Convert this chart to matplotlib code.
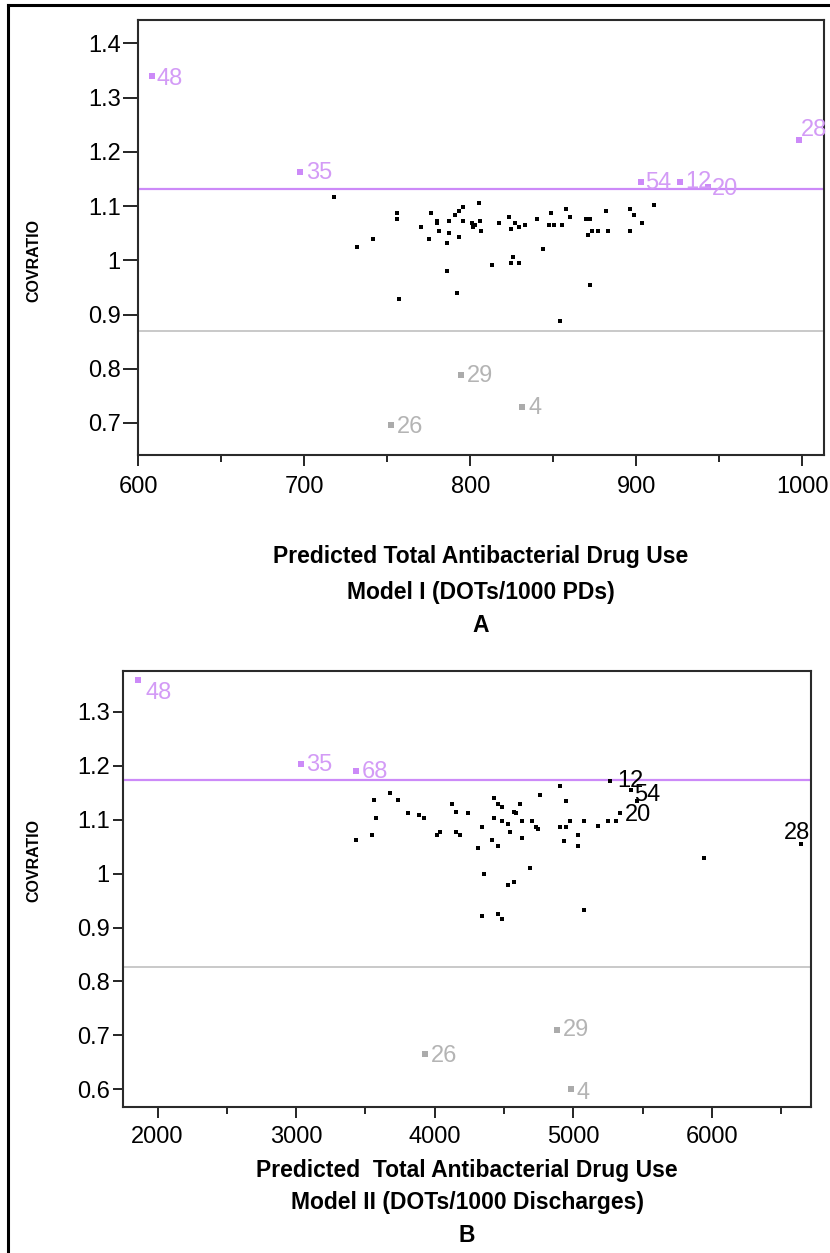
import matplotlib
matplotlib.use("Agg")
import matplotlib.pyplot as plt
from matplotlib.lines import Line2D
from matplotlib.ticker import FuncFormatter, MultipleLocator

# ---------------- data ----------------
# Panel A: Model I, predicted use (DOTs/1000 PDs) vs COVRATIO
a_x = [718.0, 731.7, 741.2, 755.9, 755.9, 756.9, 770.4, 775.0, 776.4, 779.9,
       780.1, 781.3, 786.1, 786.1, 787.3, 787.3, 790.9, 792.1, 793.4, 793.4,
       795.8, 795.8, 801.2, 801.8, 803.0, 805.4, 806.0, 806.6, 813.3, 817.5,
       823.6, 824.8, 824.8, 826.0, 827.2, 829.6, 829.6, 833.2, 840.5, 844.1,
       847.7, 848.9, 850.2, 853.8, 855.0, 857.4, 859.8, 869.5, 871.9, 870.7,
       871.9, 873.1, 876.7, 881.6, 882.8, 896.1, 898.5, 896.1, 903.3, 910.6]
a_y = [1.117, 1.024, 1.039, 1.088, 1.076, 0.929, 1.061, 1.039, 1.087, 1.072,
       1.069, 1.054, 1.032, 0.980, 1.072, 1.050, 1.083, 0.940, 1.091, 1.043,
       1.098, 1.072, 1.069, 1.061, 1.065, 1.105, 1.072, 1.054, 0.991, 1.069,
       1.080, 1.057, 0.995, 1.006, 1.069, 1.061, 0.995, 1.065, 1.076, 1.021,
       1.065, 1.087, 1.065, 0.888, 1.065, 1.094, 1.080, 1.076, 1.076, 1.046,
       0.954, 1.054, 1.054, 1.091, 1.054, 1.094, 1.083, 1.054, 1.069, 1.102]
a_ids = ["48", "35", "54", "12", "20", "28", "29", "4", "26"]
a_id_x = [608.4, 697.5, 902.8, 926.3, 943.2, 998.0, 794.5, 831.2, 752.3]
a_id_y = [1.339, 1.163, 1.145, 1.145, 1.136, 1.222, 0.788, 0.729, 0.696]
a_cut_hi = 1.131
a_cut_lo = 0.869

# Panel B: Model II, predicted use (DOTs/1000 Discharges) vs COVRATIO
b_x = [3430.6, 3543.9, 3558.3, 3572.7, 3675.9, 3733.7, 3805.9, 3885.3, 3921.4, 4015.2,
       4036.8, 4123.4, 4152.3, 4152.3, 4181.2, 4238.9, 4311.1, 4340.0, 4352.2, 4340.0,
       4412.1, 4426.5, 4426.5, 4455.4, 4455.4, 4455.4, 4484.3, 4484.3, 4484.3, 4527.6,
       4527.6, 4542.0, 4570.9, 4570.9, 4585.4, 4614.2, 4628.7, 4628.7, 4686.4, 4700.8,
       4729.7, 4744.1, 4758.6, 4902.9, 4902.9, 4931.8, 4946.2, 4946.2, 4975.1, 5032.8,
       5032.8, 5076.1, 5076.1, 5177.2, 5249.4, 5307.1, 5458.7, 5944.4]
b_y = [1.063, 1.071, 1.137, 1.104, 1.149, 1.137, 1.112, 1.108, 1.104, 1.071,
       1.078, 1.130, 1.115, 1.078, 1.071, 1.112, 1.048, 1.086, 1.000, 0.922,
       1.063, 1.141, 1.104, 1.130, 1.052, 0.926, 1.123, 1.097, 0.915, 1.093,
       0.978, 1.078, 0.985, 1.115, 1.112, 1.130, 1.097, 1.067, 1.011, 1.097,
       1.086, 1.082, 1.145, 1.163, 1.086, 1.060, 1.134, 1.086, 1.097, 1.071,
       1.052, 0.933, 1.097, 1.089, 1.097, 1.097, 1.135, 1.029]
b_ids = ["48", "35", "68", "12", "54", "20", "28", "26", "29", "4"]
b_id_x = [1862.0, 3038.6, 3428.4, 5263.6, 5415.4, 5336.0, 6642.3, 3928.5, 4881.3, 4980.2]
b_id_y = [1.360, 1.204, 1.190, 1.171, 1.156, 1.112, 1.055, 0.666, 0.709, 0.600]
b_cut_hi = 1.174
b_cut_lo = 0.826

a_xticks = [600, 700, 800, 900, 1000]
a_yticks = [0.7, 0.8, 0.9, 1.0, 1.1, 1.2, 1.3, 1.4]
b_xticks = [2000, 3000, 4000, 5000, 6000]
b_yticks = [0.6, 0.7, 0.8, 0.9, 1.0, 1.1, 1.2, 1.3]

# ---------------- style ----------------
W, H = 830, 1253
DPI = 100
PURPLE = "#CC8AF8"
PURPLE_TXT = "#D39BF6"
GREY = "#ABABAB"
GREY_TXT = "#B4B4B4"
GREY_LINE = "#C0C0C0"
plt.rcParams["font.family"] = ["Liberation Sans", "DejaVu Sans"]

fig = plt.figure(figsize=(W / DPI, H / DPI), dpi=DPI)


def fx(px):
    return px / W


def fy(py):
    return 1 - py / H


# outer frame (top and left edges)
fig.add_artist(Line2D([fx(8), fx(832)], [fy(5), fy(5)], color="black", lw=2.2,
                      transform=fig.transFigure))
fig.add_artist(Line2D([fx(8), fx(8)], [fy(5), fy(1260)], color="black", lw=2.2,
                      transform=fig.transFigure))

fmt = FuncFormatter(lambda v, p: "%g" % round(v, 3))


def panel(rect, xs, ys, ids, idx, idy, hi, lo, xlim, ylim, xticks, yticks,
          xminor, offsets, xtick_pad, ytick_len, ytick_pad):
    ax = fig.add_axes(rect)
    ax.set_xlim(*xlim)
    ax.set_ylim(*ylim)
    for s in ax.spines.values():
        s.set_linewidth(1.5)
        s.set_color("#2a2a2a")
    ax.axhline(hi, color=PURPLE, lw=1.6, zorder=1)
    ax.axhline(lo, color=GREY_LINE, lw=1.2, zorder=1)
    ax.plot(xs, ys, "s", ms=3.0, color="black", mew=0, zorder=3)
    for lab, x, y in zip(ids, idx, idy):
        if y > hi:
            mc, tc, ms = PURPLE, PURPLE_TXT, 4.2
        elif y < lo:
            mc, tc, ms = GREY, GREY_TXT, 4.2
        else:
            mc, tc, ms = "black", "black", 3.0
        ax.plot([x], [y], "s", ms=ms, color=mc, mew=0, zorder=3)
        dx, dy, ha = offsets[lab]
        ax.annotate(lab, (x, y), xytext=(dx * 0.72, -dy * 0.72),
                    textcoords="offset points", ha=ha, va="center",
                    fontsize=17, color=tc, zorder=4)
    ax.set_xticks(xticks)
    ax.set_yticks(yticks)
    ax.xaxis.set_minor_locator(MultipleLocator(xminor))
    ax.yaxis.set_major_formatter(fmt)
    ax.tick_params(axis="x", which="major", length=8, width=1.2, pad=xtick_pad,
                   labelsize=17, direction="out")
    ax.tick_params(axis="x", which="minor", length=5, width=1.2, direction="out")
    ax.tick_params(axis="y", which="major", length=ytick_len, width=1.2,
                   pad=ytick_pad, labelsize=17, direction="out")
    return ax


a_off = {"48": (5, 3, "left"), "35": (6, 1, "left"), "54": (4, 1, "left"),
         "12": (5, 0.5, "left"), "20": (4, 2, "left"), "28": (2, -10, "left"),
         "29": (6, 1, "left"), "4": (6, 1, "left"), "26": (6, 2, "left")}
b_off = {"48": (7, 13, "left"), "35": (5, 1.5, "left"), "68": (6, 1, "left"),
         "12": (7, 0, "left"), "54": (3, 5, "left"), "20": (5, 1.5, "left"),
         "28": (9, -11, "right"), "26": (6, 2, "left"), "29": (6, 0, "left"),
         "4": (6, 4, "left")}

ax_a = panel([fx(138), fy(455), fx(824) - fx(138), fy(20) - fy(455)],
             a_x, a_y, a_ids, a_id_x, a_id_y, a_cut_hi, a_cut_lo,
             (600, 1013), (0.641, 1.443), a_xticks, a_yticks, 50, a_off, 7,
             11, 1.5)
ax_b = panel([fx(123), fy(1107), fx(811) - fx(123), fy(671) - fy(1107)],
             b_x, b_y, b_ids, b_id_x, b_id_y, b_cut_hi, b_cut_lo,
             (1751, 6714), (0.567, 1.376), b_xticks, b_yticks, 500, b_off, 5.5,
             7.5, 2)

# axis titles
for cy in (260, 860):
    fig.text(fx(34), fy(cy), "COVRATIO", rotation=90, ha="center", va="center",
             fontsize=11.5, fontweight="bold")

for txt, cx, cy in [("Predicted Total Antibacterial Drug Use", 481, 557),
                    ("Model I (DOTs/1000 PDs)", 481, 592),
                    ("A", 481, 626),
                    ("Predicted  Total Antibacterial Drug Use", 467, 1170),
                    ("Model II (DOTs/1000 Discharges)", 467, 1203),
                    ("B", 467, 1235)]:
    fig.text(fx(cx), fy(cy), txt, ha="center", va="center", fontsize=16.5,
             fontweight="bold")

fig.savefig("out.png", dpi=DPI)
